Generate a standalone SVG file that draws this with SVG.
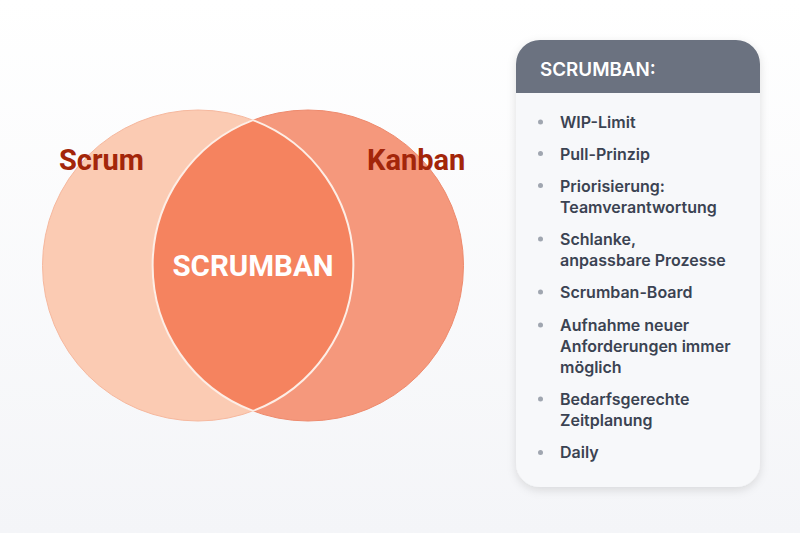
<svg xmlns="http://www.w3.org/2000/svg" width="800" height="533" viewBox="0 0 800 533">
<defs>
<linearGradient id="bg" x1="0" y1="0" x2="0" y2="1">
<stop offset="0" stop-color="#ffffff"/>
<stop offset="1" stop-color="#f4f5f8"/>
</linearGradient>
<filter id="sh" x="-20%" y="-20%" width="140%" height="140%">
<feDropShadow dx="0" dy="3" stdDeviation="5" flood-color="#000" flood-opacity="0.12"/>
</filter>
<clipPath id="panelClip"><rect x="516" y="40" width="244" height="447" rx="24"/></clipPath>
<clipPath id="leftClip"><circle cx="198" cy="265.5" r="155.5"/></clipPath>
<style>
.vlabel{font-family:Roboto,"Liberation Sans",sans-serif;font-weight:700;font-size:29px;fill:#a3260a}
.center{font-family:Roboto,"Liberation Sans",sans-serif;font-weight:700;font-size:29.5px;fill:#ffffff}
.item{font-family:Inter,"Liberation Sans",sans-serif;font-weight:600;font-size:16px;fill:#3b4352}
.head{font-family:Inter,"Liberation Sans",sans-serif;font-weight:600;font-size:18.8px;fill:#ffffff}
.dot{fill:#a0a6b0}
</style>
</defs>
<rect width="800" height="533" fill="url(#bg)"/>
<g id="venn">
<g id="scrum">
<circle cx="198" cy="265.5" r="155.5" fill="#fbcbb3" stroke="#f6b89e" stroke-width="1"/>
</g>
<g id="kanban">
<circle cx="308" cy="265.5" r="155.5" fill="#f5987c" stroke="#ee8a6d" stroke-width="1"/>
</g>
<g id="scrumban">
<circle cx="308" cy="265.5" r="155.5" fill="#f5835f" clip-path="url(#leftClip)"/>
<path d="M253 120.1 A155.5 155.5 0 0 1 253 410.9 A155.5 155.5 0 0 1 253 120.1 Z" fill="none" stroke="#fdeee6" stroke-width="2"/>
<text class="center" x="253" y="276" text-anchor="middle">SCRUMBAN</text>
</g>
<text class="vlabel" x="59" y="170">Scrum</text>
<text class="vlabel" x="367" y="170">Kanban</text>
</g>
<g id="panel">
<rect x="516" y="40" width="244" height="447" rx="24" fill="#f7f8fa" filter="url(#sh)"/>
<rect x="516" y="40" width="244" height="53" fill="#6b7280" clip-path="url(#panelClip)"/>
<text class="head" x="540" y="76">SCRUMBAN:</text>
<g id="items">
<circle class="dot" cx="540.5" cy="122" r="2.5"/>
<text class="item" x="560" y="128">WIP-Limit</text>
<circle class="dot" cx="540.5" cy="153.5" r="2.5"/>
<text class="item" x="560" y="159.5">Pull-Prinzip</text>
<circle class="dot" cx="540.5" cy="185.5" r="2.5"/>
<text class="item" x="560" y="191.5">Priorisierung:</text>
<text class="item" x="560" y="213">Teamverantwortung</text>
<circle class="dot" cx="540.5" cy="239" r="2.5"/>
<text class="item" x="560" y="245">Schlanke,</text>
<text class="item" x="560" y="266">anpassbare Prozesse</text>
<circle class="dot" cx="540.5" cy="292" r="2.5"/>
<text class="item" x="560" y="298">Scrumban-Board</text>
<circle class="dot" cx="540.5" cy="325" r="2.5"/>
<text class="item" x="560" y="331">Aufnahme neuer</text>
<text class="item" x="560" y="352">Anforderungen immer</text>
<text class="item" x="560" y="372.5">möglich</text>
<circle class="dot" cx="540.5" cy="399" r="2.5"/>
<text class="item" x="560" y="405">Bedarfsgerechte</text>
<text class="item" x="560" y="426">Zeitplanung</text>
<circle class="dot" cx="540.5" cy="452.5" r="2.5"/>
<text class="item" x="560" y="458">Daily</text>
</g>
</g>
</svg>
